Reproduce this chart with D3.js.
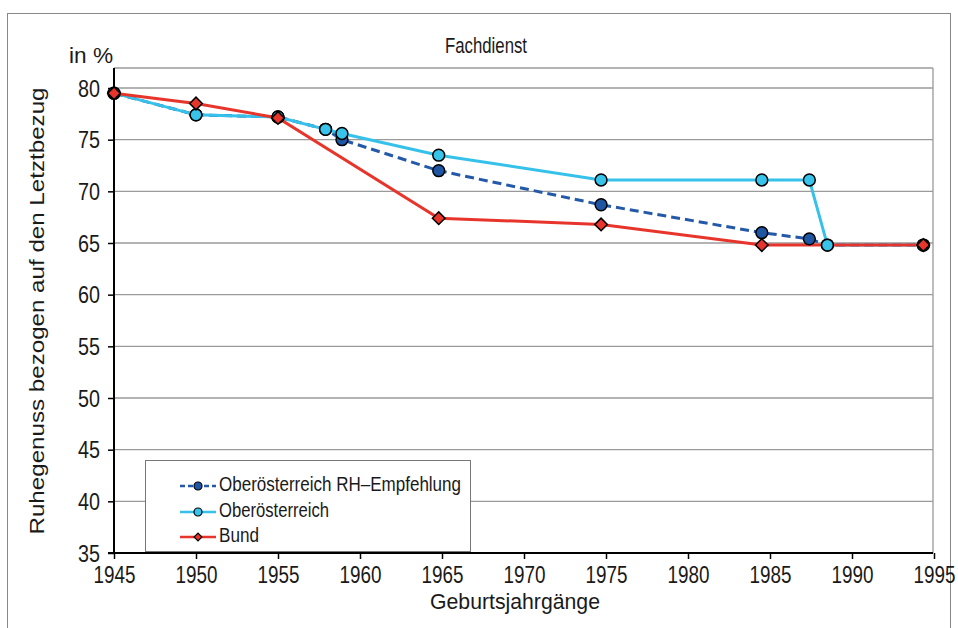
<!DOCTYPE html>
<html><head><meta charset="utf-8">
<script src="https://cdn.jsdelivr.net/npm/d3@7"></script>
<style>body{margin:0;background:#fff}svg{display:block}text{font-family:"Liberation Sans",Arial,sans-serif;fill:#1a1a1a}</style>
</head><body><svg id="c" width="958" height="628"></svg>
<script>
const title = "Fachdienst";
const yLabel = "Ruhegenuss bezogen auf den Letztbezug";
const xLabel = "Geburtsjahrgänge";
const unitLabel = "in %";
const xTicks = [1945,1950,1955,1960,1965,1970,1975,1980,1985,1990,1995];
const yTicks = [35,40,45,50,55,60,65,70,75,80];
const seriesNames = ["Oberösterreich RH\u2013Empfehlung","Oberösterreich","Bund"];
const rhYears = [1945,1950,1955,1957.9,1958.9,1964.8,1974.7,1984.5,1987.4,1988.5,1994.35];
const rhValues = [79.5,77.4,77.2,76.0,75.0,72.0,68.7,66.0,65.4,64.8,64.8];
const ooYears = [1945,1950,1955,1957.9,1958.9,1964.8,1974.7,1984.5,1987.4,1988.5,1994.35];
const ooValues = [79.5,77.4,77.2,76.0,75.6,73.5,71.1,71.1,71.1,64.8,64.8];
const bundYears = [1945,1950,1955,1964.8,1974.7,1984.5,1994.35];
const bundValues = [79.5,78.5,77.1,67.4,66.8,64.8,64.8];

const svg = d3.select("#c");
const x = d3.scaleLinear().domain([1945,1995]).range([114,934]);
const y = d3.scaleLinear().domain([35,80]).range([553,88]);
const plotTop = 68, plotRight = 933;

// outer frame
svg.append("rect").attr("x",7.5).attr("y",13.5).attr("width",943).attr("height",640)
  .attr("fill","none").attr("stroke","#888").attr("stroke-width",1);

// gridlines
svg.append("g").selectAll("line").data(yTicks.filter(d=>d>35)).join("line")
  .attr("x1",114).attr("x2",plotRight).attr("y1",d=>y(d)).attr("y2",d=>y(d))
  .attr("stroke","#9a9a9a").attr("stroke-width",1.3);
svg.append("line").attr("x1",114).attr("x2",plotRight).attr("y1",plotTop).attr("y2",plotTop).attr("stroke","#9a9a9a").attr("stroke-width",1.3);
svg.append("line").attr("x1",plotRight).attr("x2",plotRight).attr("y1",plotTop).attr("y2",553).attr("stroke","#9a9a9a").attr("stroke-width",1.3);

// axes
const yAxis = d3.axisLeft(y).tickValues(yTicks).tickSize(6).tickPadding(0);
const gy = svg.append("g").attr("transform","translate(114,0)").call(yAxis);
gy.select(".domain").remove();
gy.append("line").attr("x1",0).attr("x2",0).attr("y1",plotTop).attr("y2",553).attr("stroke","#000").attr("stroke-width",2);
gy.selectAll(".tick line").attr("stroke","#000").attr("stroke-width",1.5);
gy.selectAll(".tick text").attr("font-size",23).attr("x",-14).attr("dy",null).attr("y",8)
  .attr("textLength",22).attr("lengthAdjust","spacingAndGlyphs").style("fill","#1a1a1a");

const xAxis = d3.axisBottom(x).tickValues(xTicks).tickFormat(d3.format("d")).tickSize(6).tickPadding(0);
const gx = svg.append("g").attr("transform","translate(0,553)").call(xAxis);
gx.select(".domain").remove();
gx.append("line").attr("x1",108).attr("x2",plotRight).attr("y1",0).attr("y2",0).attr("stroke","#000").attr("stroke-width",2);
gx.selectAll(".tick line").attr("stroke","#000").attr("stroke-width",1.5);
gx.selectAll(".tick text").attr("font-size",20).attr("dy",null).attr("y",30/1.15)
  .attr("transform","scale(1,1.15)")
  .attr("textLength",42).attr("lengthAdjust","spacingAndGlyphs").style("fill","#1a1a1a");

// labels
svg.append("text").attr("x",486).attr("y",53).attr("text-anchor","middle").attr("font-size",22)
  .attr("textLength",82).attr("lengthAdjust","spacingAndGlyphs").text(title);
svg.append("text").attr("x",91).attr("y",63).attr("text-anchor","middle").attr("font-size",22)
  .attr("textLength",44).attr("lengthAdjust","spacingAndGlyphs").text(unitLabel);
svg.append("text").attr("x",515).attr("y",609).attr("text-anchor","middle").attr("font-size",22)
  .attr("textLength",170).attr("lengthAdjust","spacingAndGlyphs").text(xLabel);
svg.append("text").attr("transform","translate(44,311) rotate(-90)").attr("text-anchor","middle").attr("font-size",21)
  .attr("textLength",447).attr("lengthAdjust","spacingAndGlyphs").text(yLabel);

const series = [
  {name:seriesNames[0], xs:rhYears, ys:rhValues, color:"#2459a8", fill:"#1f56a3", dash:"9,5", shape:"circle", lw:242},
  {name:seriesNames[1], xs:ooYears, ys:ooValues, color:"#35c1ea", fill:"#38c3eb", dash:null, shape:"circle", lw:110},
  {name:seriesNames[2], xs:bundYears, ys:bundValues, color:"#e8352b", fill:"#e8352b", dash:null, shape:"diamond", lw:40}
];
const line = d3.line().x(d=>x(d[0])).y(d=>y(d[1]));
series.forEach(s=>{
  const pts = s.xs.map((v,i)=>[v,s.ys[i]]);
  svg.append("path").datum(pts).attr("d",line).attr("fill","none")
    .attr("stroke",s.color).attr("stroke-width",3).attr("stroke-dasharray",s.dash);
});
function sym(s, big){
  return s.shape==="circle" ? d3.symbol().type(d3.symbolCircle).size(big?110:50)()
                            : d3.symbol().type(d3.symbolSquare).size(big?80:30)();
}
series.forEach(s=>{
  const pts = s.xs.map((v,i)=>[v,s.ys[i]]);
  svg.append("g").selectAll("path").data(pts).join("path")
    .attr("transform",d=>`translate(${x(d[0])},${y(d[1])})` + (s.shape==="diamond"?" rotate(45)":""))
    .attr("d",sym(s,true))
    .attr("fill",s.fill).attr("stroke","#000").attr("stroke-width",1.5);
});

// legend
const lg = svg.append("g");
lg.append("rect").attr("x",145.5).attr("y",460.5).attr("width",325).attr("height",91)
  .attr("fill","#fff").attr("stroke","#777").attr("stroke-width",1);
const legY = [486,512,537];
series.forEach((s,i)=>{
  const yy = legY[i];
  lg.append("line").attr("x1",180).attr("x2",216).attr("y1",yy).attr("y2",yy)
    .attr("stroke",s.color).attr("stroke-width",2.5).attr("stroke-dasharray",s.dash?"5,3":null);
  lg.append("path").attr("transform",`translate(198,${yy})` + (s.shape==="diamond"?" rotate(45)":"")).attr("d",sym(s,false))
    .attr("fill",s.fill).attr("stroke","#000").attr("stroke-width",1.2);
  lg.append("text").attr("x",219).attr("y",yy+5).attr("font-size",20)
    .attr("textLength",s.lw).attr("lengthAdjust","spacingAndGlyphs").text(s.name);
});
</script></body></html>
